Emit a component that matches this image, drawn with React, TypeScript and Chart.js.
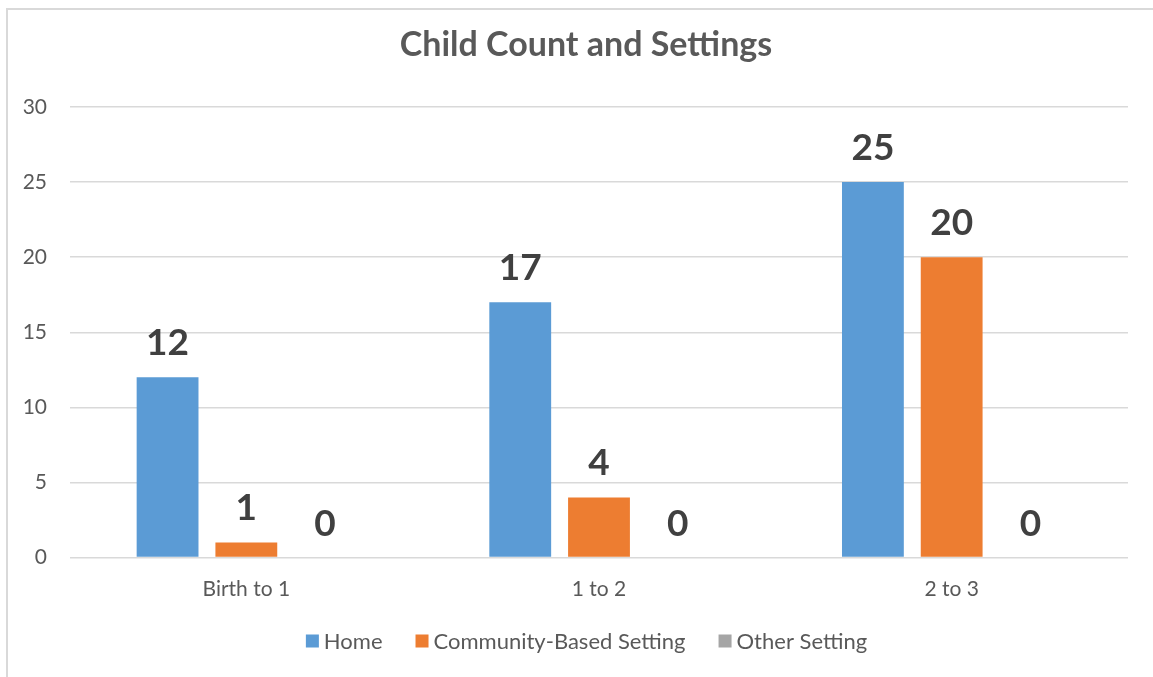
import React, { useEffect, useRef } from "react";
import { Chart, registerables } from "chart.js";

Chart.register(...registerables);

const categories = ["Birth to 1", "1 to 2", "2 to 3"];
const seriesNames = ["Home", "Community-Based Setting", "Other Setting"];
const homeValues = [12, 17, 25];
const communityValues = [1, 4, 20];
const otherValues = [0, 0, 0];
const seriesColors = ["#5B9BD5", "#ED7D31", "#A5A5A5"];
const chartTitle = "Child Count and Settings";
const yMin = 0;
const yMax = 30;
const yStep = 5;

const FONT = "Lato, 'Open Sans', sans-serif";

const labelPlugin = {
  id: "valueLabels",
  afterDatasetsDraw(chart: any) {
    const ctx = chart.ctx;
    ctx.save();
    ctx.font = `bold 37px ${FONT}`;
    ctx.fillStyle = "#404040";
    ctx.textAlign = "center";
    ctx.textBaseline = "alphabetic";
    chart.data.datasets.forEach((ds: any, i: number) => {
      const meta = chart.getDatasetMeta(i);
      meta.data.forEach((bar: any, j: number) => {
        ctx.fillText(String(ds.data[j]), bar.x, bar.y - 22);
      });
    });
    ctx.restore();
  },
};

const titleLegendPlugin = {
  id: "titleLegend",
  afterDraw(chart: any) {
    const ctx = chart.ctx;
    ctx.save();
    ctx.fillStyle = "#595959";
    ctx.font = `bold 34px ${FONT}`;
    ctx.textAlign = "center";
    ctx.textBaseline = "middle";
    ctx.fillText(chartTitle, 586, 45);

    // legend
    ctx.font = `22px ${FONT}`;
    const box = 13;
    const textGap = 5;
    const itemGap = 33;
    const widths = chart.data.datasets.map(
      (ds: any) => box + textGap + ctx.measureText(ds.label).width
    );
    const total =
      widths.reduce((a: number, b: number) => a + b, 0) +
      itemGap * (widths.length - 1);
    let x = 586.5 - total / 2;
    const cy = 641;
    chart.data.datasets.forEach((ds: any, i: number) => {
      ctx.fillStyle = ds.backgroundColor;
      ctx.fillRect(x, cy - box / 2, box, box);
      ctx.fillStyle = "#595959";
      ctx.textAlign = "left";
      ctx.textBaseline = "middle";
      ctx.fillText(ds.label, x + box + textGap, cy + 1);
      x += widths[i] + itemGap;
    });
    ctx.restore();
  },
};

export default function App() {
  const ref = useRef<HTMLCanvasElement>(null);

  useEffect(() => {
    if (!ref.current) return;
    const allValues = [homeValues, communityValues, otherValues];
    const chart = new Chart(ref.current, {
      type: "bar",
      data: {
        labels: categories,
        datasets: seriesNames.map((name, i) => ({
          label: name,
          data: allValues[i],
          backgroundColor: seriesColors[i],
          borderWidth: 0,
          categoryPercentage: 0.67,
          barPercentage: 0.785,
        })),
      },
      options: {
        animation: false,
        responsive: false,
        maintainAspectRatio: false,
        layout: {
          padding: { top: 107, right: 25, bottom: 79.5, left: 0 },
        },
        plugins: {
          legend: { display: false },
          title: { display: false },
          tooltip: { enabled: false },
        },
        scales: {
          x: {
            grid: { display: false, drawTicks: false },
            border: { display: false },
            ticks: {
              color: "#595959",
              font: { family: FONT, size: 21 },
              padding: 19,
            },
            afterFit(scale: any) {
              scale.height = 40;
            },
          },
          y: {
            min: yMin,
            max: yMax,
            grid: { color: "#D9D9D9", lineWidth: 1.5, drawTicks: false },
            border: { display: false },
            ticks: {
              stepSize: yStep,
              color: "#595959",
              font: { family: FONT, size: 21 },
              padding: 23,
            },
            afterFit(scale: any) {
              scale.width = 70;
            },
          },
        },
      },
      plugins: [labelPlugin, titleLegendPlugin],
    });
    return () => chart.destroy();
  }, []);

  return (
    <div
      style={{
        position: "fixed",
        left: 0,
        top: 0,
        width: 1153,
        height: 677,
        overflow: "hidden",
        background: "#fff",
      }}
    >
      <div
        style={{
          position: "absolute",
          left: 6,
          top: 8,
          width: 1300,
          height: 800,
          border: "2px solid #D9D9D9",
          boxSizing: "border-box",
        }}
      />
      <canvas
        ref={ref}
        width={1153}
        height={677}
        style={{ position: "absolute", left: 0, top: 0, width: 1153, height: 677 }}
      />
    </div>
  );
}
